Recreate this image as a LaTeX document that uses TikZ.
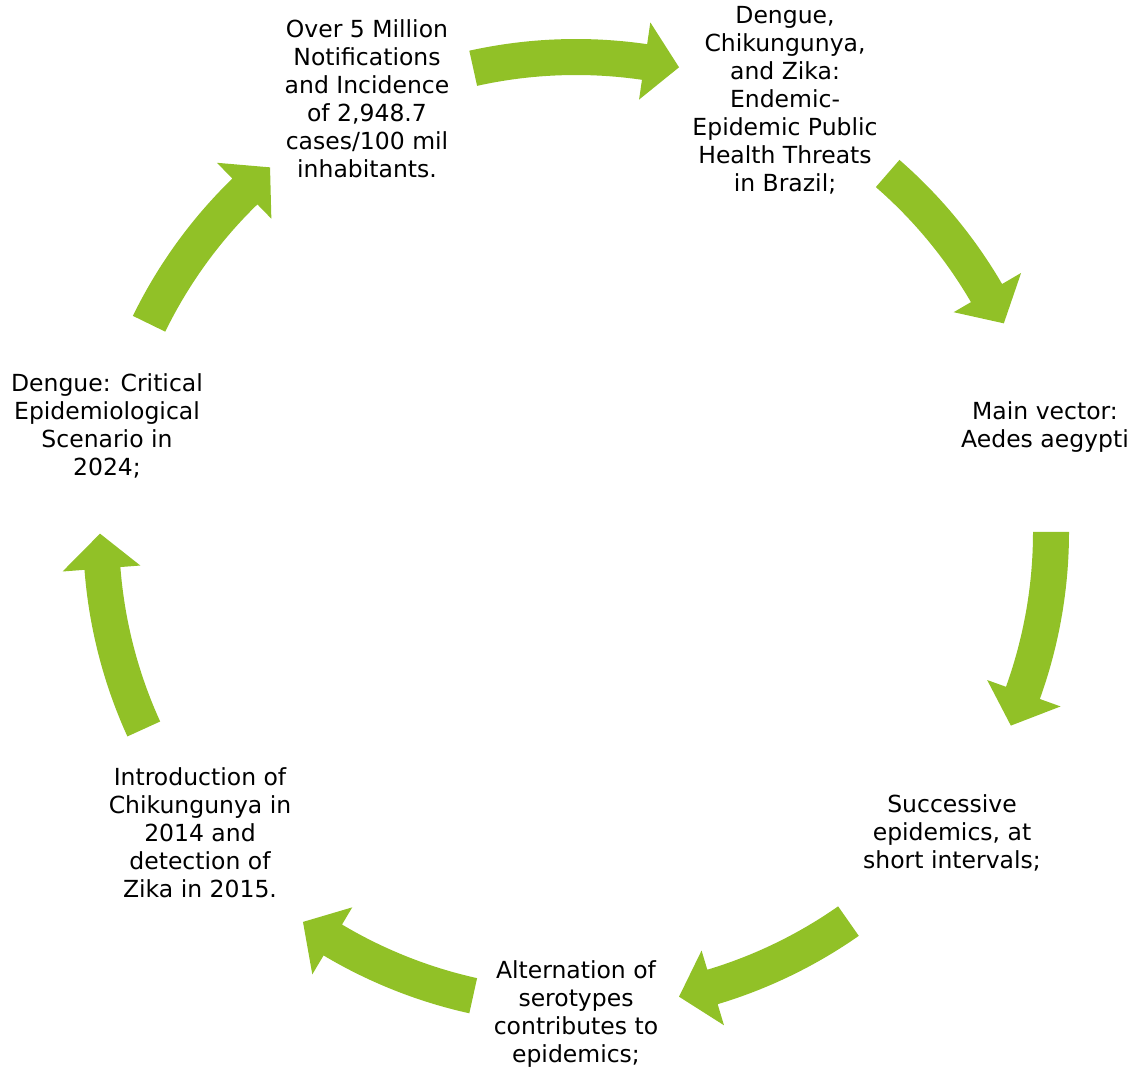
\documentclass[tikz,border=0pt]{standalone}
\usepackage{fontspec}
\setmainfont{DejaVu Sans}
\usetikzlibrary{calc}
\definecolor{arrowgreen}{RGB}{145,193,39}
\tikzset{
  lbl/.style={align=center, inner sep=0pt, font=\fontsize{23.5}{28}\selectfont, text=black},
}
% curved block arrow: #1 start angle, #2 end angle (clockwise => #2 < #1)
\newcommand{\cyclearrow}[2]{%
  \fill[arrowgreen]
    (#1:493pt) arc[start angle=#1, end angle=#2+4.2, radius=493pt]
    -- (#2+4.2:515pt) -- (#2:476pt) -- (#2+4.2:437pt) -- (#2+4.2:457pt)
    arc[start angle=#2+4.2, end angle=#1, radius=457pt] -- cycle;}
\begin{document}
\begin{tikzpicture}[x=1pt,y=1pt]
\useasboundingbox (0,0) rectangle (1132,1071);
\node[lbl] (n1) at (367,972) {Over 5 Million\\Notifications\\and Incidence\\of 2,948.7\\cases/100 mil\\inhabitants.};
\node[lbl] (n2) at (785,971) {Dengue,\\Chikungunya,\\and Zika:\\Endemic-\\Epidemic Public\\Health Threats\\in Brazil;};
\node[lbl] (n3) at (1045,644) {Main vector:\\Aedes aegypti};
\node[lbl] (n4) at (952,238) {Successive\\epidemics, at\\short intervals;};
\node[lbl] (n5) at (576,57) {Alternation of\\serotypes\\contributes to\\epidemics;};
\node[lbl] (n6) at (200,238) {Introduction of\\Chikungunya in\\2014 and\\detection of\\Zika in 2015.};
\node[lbl] (n7) at (107,645) {Dengue: Critical\\Epidemiological\\Scenario in\\2024;};
\begin{scope}[shift={(576,539)}]
  \cyclearrow{102.5}{77.5}
  \cyclearrow{49}{26}
  \cyclearrow{0}{-24}
  \cyclearrow{-55}{-77.5}
  \cyclearrow{-102.5}{-125}
  \cyclearrow{-155.5}{-179.8}
  \cyclearrow{154}{130}
\end{scope}
\end{tikzpicture}
\end{document}
